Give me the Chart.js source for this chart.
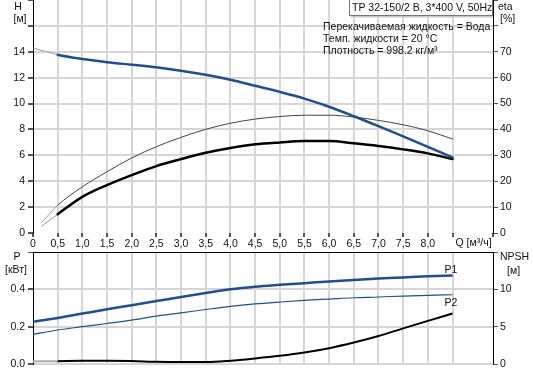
<!DOCTYPE html>
<html>
<head>
<meta charset="utf-8">
<script src="https://cdn.jsdelivr.net/npm/chart.js@4/dist/chart.umd.min.js"></script>
<style>
  html, body { margin: 0; padding: 0; background: #fff; }
  #wrap { position: relative; width: 533px; height: 373px; overflow: hidden; }
  #top { position: absolute; left: 0; top: 0; }
  #bottom { position: absolute; left: 0; top: 244px; }
</style>
</head>
<body>
<div id="wrap">
  <canvas id="top" width="533" height="250"></canvas>
  <canvas id="bottom" width="533" height="129"></canvas>
</div>
<script>
// flow Q [m3/h]
const flow = [0, 0.5, 1, 1.5, 2, 2.5, 3, 3.5, 4, 4.5, 5, 5.5, 6, 6.5, 7, 7.5, 8, 8.5];
const etaFlow = [0.17, 0.5, 1, 1.5, 2, 2.5, 3, 3.5, 4, 4.5, 5, 5.5, 6, 6.5, 7, 7.5, 8, 8.5];

// head H [m]
const head = [14.3, 13.77, 13.44, 13.2, 13.0, 12.8, 12.53, 12.22, 11.84, 11.37, 10.9, 10.38, 9.75, 9.02, 8.25, 7.46, 6.65, 5.84];
// efficiencies [%]
const etaThin = [3.9, 10.7, 17.85, 23.65, 29.0, 33.35, 36.95, 40.05, 42.4, 44.0, 45.0, 45.5, 45.5, 44.8, 43.5, 41.8, 39.5, 36.3];
const etaThick = [2.6, 7.25, 13.95, 18.5, 22.35, 25.85, 28.55, 31.0, 32.85, 34.25, 35.0, 35.55, 35.55, 34.65, 33.6, 32.3, 30.75, 28.55];
// power [kW]
const powerP1 = [0.226, 0.247, 0.27, 0.293, 0.315, 0.337, 0.359, 0.38, 0.4, 0.414, 0.424, 0.433, 0.442, 0.45, 0.458, 0.464, 0.47, 0.474];
const powerP2 = [0.159, 0.182, 0.2, 0.217, 0.235, 0.256, 0.274, 0.292, 0.309, 0.322, 0.332, 0.341, 0.348, 0.355, 0.359, 0.364, 0.368, 0.371];
// NPSH [m]
const npsh = [0.35, 0.38, 0.42, 0.42, 0.4, 0.3, 0.27, 0.27, 0.45, 0.75, 1.1, 1.54, 2.12, 2.87, 3.75, 4.77, 5.78, 6.76];

const xLabelMax = 8.0;
const infoTitle = 'TP 32-150/2 B, 3*400 V, 50Hz';
const infoLines = ['Перекачиваемая жидкость = Вода', 'Темп. жидкости = 20 °C', 'Плотность = 998.2 кг/м³'];

const FONT = '10.5px "Liberation Sans", Arial, sans-serif';
const BLUE = '#1f4f8d';
const GRID = '#d6d6d6';
const TICK = '#555';

const pts = (xs, ys) => xs.map((x, i) => ({ x, y: ys[i] }));
const lead = (colLead, colMain, wLead, wMain) => ({
  borderColor: (c) => (c.p0.parsed.x < 0.49 ? colLead : colMain),
  borderWidth: (c) => (c.p0.parsed.x < 0.49 ? wLead : wMain),
});

const noPad = (s) => { s.paddingTop = 0; s.paddingBottom = 0; s.paddingLeft = 0; s.paddingRight = 0; };
const fixWidth = (w) => (s) => { s.width = w; noPad(s); };
const fixHeight = (h) => (s) => { s.height = h; noPad(s); };

const xFmt = (v) => {
  if (Math.abs(v / 0.5 - Math.round(v / 0.5)) > 1e-6 || v > xLabelMax + 1e-6) return '';
  return v === 0 ? '0' : v.toFixed(1).replace('.', ',');
};

const text = (ctx, str, x, y, align) => {
  ctx.textAlign = align || 'left';
  ctx.fillText(str, x, y);
};

const topLabels = {
  id: 'topLabels',
  afterDraw(chart) {
    const { ctx, chartArea, scales } = chart;
    ctx.save();
    ctx.font = FONT;
    ctx.fillStyle = '#111';
    ctx.textBaseline = 'middle';
    text(ctx, 'H', 18, 7, 'center');
    text(ctx, '[м]', 20, 19, 'center');
    text(ctx, 'eta', 498, 7);
    text(ctx, '[%]', 500, 19);
    text(ctx, 'Q [м³/ч]', scales.x.getPixelForValue(8.5) + 3, 243);
    // info box
    ctx.fillStyle = '#fff';
    ctx.fillRect(349.5, 0.5, chartArea.right - 350, 15);
    ctx.strokeStyle = '#c8c8c8';
    ctx.lineWidth = 2;
    ctx.beginPath();
    ctx.moveTo(350.5, 16.5); ctx.lineTo(chartArea.right, 16.5);
    ctx.stroke();
    ctx.strokeStyle = '#777';
    ctx.lineWidth = 1;
    ctx.strokeRect(349.5, -0.5, chartArea.right - 350, 16);
    ctx.fillStyle = '#111';
    text(ctx, infoTitle, 352, 8);
    infoLines.forEach((l, i) => text(ctx, l, 323, 27 + i * 12.3));
    ctx.restore();
  },
};

const bottomLabels = {
  id: 'bottomLabels',
  afterDraw(chart) {
    const { ctx } = chart;
    const off = 244;
    ctx.save();
    ctx.font = FONT;
    ctx.fillStyle = '#111';
    ctx.textBaseline = 'middle';
    text(ctx, 'P', 17, 257 - off, 'center');
    text(ctx, '[кВт]', 16, 270 - off, 'center');
    text(ctx, 'NPSH', 500, 257 - off);
    text(ctx, '[м]', 507, 271 - off);
    text(ctx, 'P1', 451, 270 - off, 'center');
    text(ctx, 'P2', 451, 303 - off, 'center');
    ctx.restore();
  },
};

Chart.defaults.font.family = '"Liberation Sans", Arial, sans-serif';
Chart.defaults.font.size = 10.5;
Chart.defaults.color = '#111';

new Chart(document.getElementById('top'), {
  type: 'line',
  data: {
    datasets: [
      {
        data: pts(flow, head), yAxisID: 'y',
        segment: lead('#8fa3bd', BLUE, 1, 2.5),
      },
      {
        data: pts(etaFlow, etaThin), yAxisID: 'y2',
        segment: lead('#999', '#444', 1, 1),
      },
      {
        data: pts(etaFlow, etaThick), yAxisID: 'y2',
        segment: lead('#999', '#000', 1, 2.5),
      },
    ],
  },
  options: {
    responsive: false,
    animation: false,
    events: [],
    layout: { padding: 0 },
    plugins: { legend: { display: false }, tooltip: { enabled: false } },
    elements: { point: { radius: 0 }, line: { cubicInterpolationMode: 'monotone', borderCapStyle: 'round' } },
    scales: {
      x: {
        type: 'linear', min: 0, max: 9.32,
        afterFit: fixHeight(17),
        ticks: { stepSize: 0.5, maxRotation: 0, autoSkip: false, padding: 1, callback: xFmt },
        grid: {
          color: (c) => (c.tick && c.tick.value > 0 && c.tick.value < 9.1 ? GRID : 'rgba(0,0,0,0)'),
          lineWidth: 2, tickLength: 4, tickColor: TICK,
        },
        border: { display: false },
      },
      y: {
        position: 'left', min: 0, max: 18,
        afterFit: fixWidth(33),
        ticks: { stepSize: 2, padding: 3, callback: (v) => (v <= 14 ? String(v) : '') },
        grid: {
          color: (c) => (c.tick && c.tick.value > 0 && c.tick.value < 18 ? GRID : 'rgba(0,0,0,0)'),
          lineWidth: 2, tickLength: 5, tickColor: TICK,
        },
        border: { display: true, color: '#000', width: 1 },
      },
      y2: {
        position: 'right', min: 0, max: 90,
        afterFit: fixWidth(40),
        ticks: { stepSize: 10, padding: 2, callback: (v) => (v <= 70 ? String(v) : '') },
        grid: { drawOnChartArea: false, tickLength: 5, tickColor: TICK },
        border: { display: true, color: '#000', width: 1 },
      },
    },
  },
  plugins: [topLabels],
});

new Chart(document.getElementById('bottom'), {
  type: 'line',
  data: {
    datasets: [
      { data: pts(flow, powerP1), yAxisID: 'y', borderColor: BLUE, borderWidth: 2.5 },
      { data: pts(flow, powerP2), yAxisID: 'y', borderColor: BLUE, borderWidth: 1.2 },
      {
        data: pts(flow, npsh), yAxisID: 'y2',
        segment: lead('#aaa', '#000', 2, 2),
      },
    ],
  },
  options: {
    responsive: false,
    animation: false,
    events: [],
    layout: { padding: { top: 8, left: 0, right: 0, bottom: 0 } },
    plugins: { legend: { display: false }, tooltip: { enabled: false } },
    elements: { point: { radius: 0 }, line: { cubicInterpolationMode: 'monotone' } },
    scales: {
      x: {
        type: 'linear', min: 0, max: 9.32,
        afterFit: fixHeight(9),
        ticks: { display: false, stepSize: 0.5 },
        grid: {
          color: (c) => (c.tick && c.tick.value > 0 && c.tick.value < 9.1 ? GRID : 'rgba(0,0,0,0)'),
          lineWidth: 2, drawTicks: false,
        },
        border: { display: false },
      },
      y: {
        position: 'left', min: 0, max: 0.6,
        afterFit: fixWidth(33),
        ticks: { stepSize: 0.2, padding: 3, callback: (v) => (v < 0.5 ? v.toFixed(1) : '') },
        grid: {
          color: (c) => (c.tick && c.tick.value > 0.5 ? '#000' : GRID),
          lineWidth: (c) => (c.tick && c.tick.value > 0.5 ? 1 : 2),
          tickLength: 5, tickColor: TICK,
        },
        border: { display: true, color: '#000', width: 1 },
      },
      y2: {
        position: 'right', min: 0, max: 15,
        afterFit: fixWidth(40),
        ticks: { stepSize: 5, padding: 2, callback: (v) => (v < 12 ? String(v) : '') },
        grid: { drawOnChartArea: false, tickLength: 5, tickColor: TICK },
        border: { display: true, color: '#000', width: 1 },
      },
    },
  },
  plugins: [bottomLabels],
});
</script>
</body>
</html>
